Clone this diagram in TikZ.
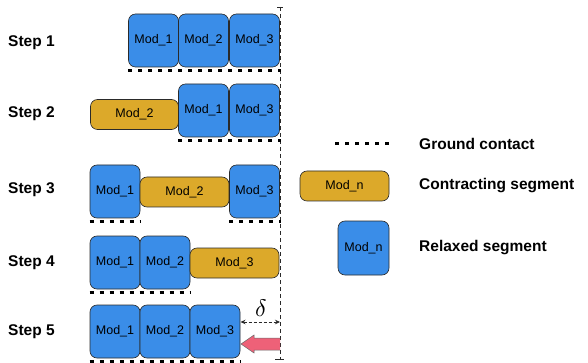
\documentclass[tikz,border=0pt]{standalone}
\usepackage{fontspec}
\usepackage{graphicx}
\setmainfont{Liberation Sans}
\usetikzlibrary{arrows.meta,calc}
\definecolor{relblue}{HTML}{3A8DE8}
\definecolor{conyel}{HTML}{DCA92A}
\definecolor{pinkarr}{HTML}{EE6178}
\definecolor{edgegray}{HTML}{2A2A2A}
\tikzset{
  relaxed/.style={draw=edgegray, line width=0.6pt, fill=relblue, rounded corners=7pt,
    minimum width=50pt, minimum height=53pt, inner sep=0pt, font=\fontsize{12.5}{14}\selectfont},
  contracting/.style={draw=edgegray, line width=0.6pt, fill=conyel, rounded corners=7pt,
    minimum width=88pt, minimum height=30pt, inner sep=0pt, font=\fontsize{12.5}{14}\selectfont},
  ground/.style={line width=3pt, dash pattern=on 4pt off 6pt, black},
  steplabel/.style={anchor=west, inner sep=0pt, font=\bfseries\fontsize{15.5}{18}\selectfont},
  legtext/.style={anchor=west, inner sep=0pt, font=\bfseries\fontsize{15.5}{18}\selectfont},
}
\begin{document}
\begin{tikzpicture}[x=1pt,y=-1pt]
\useasboundingbox (0,0) rectangle (588,363);

% step labels
\node[steplabel] (l1) at (8,43) {Step 1};
\node[steplabel] (l2) at (8,114) {Step 2};
\node[steplabel] (l3) at (8,190) {Step 3};
\node[steplabel] (l4) at (8,263) {Step 4};
\node[steplabel] (l5) at (8,332) {Step 5};

% reference line
\coordinate (rtop) at (280,7);
\coordinate (rbot) at (280,359);
\draw[edgegray, line width=0.6pt, dash pattern=on 4pt off 3pt] (rtop) -- (rbot);
\draw[edgegray, line width=0.7pt] ([xshift=-3pt]rtop) -- ([xshift=3pt]rtop);
\draw[edgegray, line width=0.7pt] ([xshift=-5pt]rbot) -- ([xshift=4pt]rbot);

% Step 1
\node[relaxed] (s1a) at (153.5,40.5) {Mod\_1};
\node[relaxed] (s1b) at (203.5,40.5) {Mod\_2};
\node[relaxed] (s1c) at (254.5,40.5) {Mod\_3};
\draw[ground] ([yshift=-3.5pt]s1a.south west) -- ([yshift=-3.5pt,xshift=1pt]s1c.south east);

% Step 2
\node[contracting] (s2b) at (134.5,114.5) {Mod\_2};
\node[relaxed] (s2a) at (203.5,110.5) {Mod\_1};
\node[relaxed] (s2c) at (254.5,110.5) {Mod\_3};
\draw[ground] ([yshift=-3.5pt]s2a.south west) -- ([yshift=-3.5pt,xshift=1pt]s2c.south east);

% Step 3
\node[relaxed] (s3a) at (115,191.5) {Mod\_1};
\node[contracting, minimum width=89pt] (s3b) at (184.5,192) {Mod\_2};
\node[relaxed] (s3c) at (254.5,191.5) {Mod\_3};
\draw[ground] ([yshift=-3.5pt]s3a.south west) -- ([yshift=-3.5pt]s3a.south east);
\draw[ground] ([yshift=-3.5pt]s3c.south west) -- ([yshift=-3.5pt,xshift=1pt]s3c.south east);

% Step 4
\node[relaxed] (s4a) at (115,262.5) {Mod\_1};
\node[relaxed] (s4b) at (165,262.5) {Mod\_2};
\node[contracting, minimum width=89pt] (s4c) at (234.5,263) {Mod\_3};
\draw[ground] ([yshift=-3.5pt]s4a.south west) -- ([yshift=-3.5pt]s4b.south east);

% Step 5
\node[relaxed] (s5a) at (115,331.5) {Mod\_1};
\node[relaxed] (s5b) at (165,331.5) {Mod\_2};
\node[relaxed] (s5c) at (215,331.5) {Mod\_3};
\draw[ground] ([yshift=-3pt]s5a.south west) -- ([yshift=-3pt]s5c.south east);

% delta
\coordinate (dl) at (240.5,322);
\coordinate (dr) at (280,322);
\draw[edgegray, line width=0.7pt, dash pattern=on 3pt off 2pt,
  {Stealth[length=5pt,width=4.5pt]}-{Stealth[length=5pt,width=4.5pt]}] (dl) -- (dr);
\node[inner sep=0pt] (delta) at (261,308) {\scalebox{2.4}{$\delta$}};

% push arrow
\coordinate (ptip) at (241,344);
\draw[fill=pinkarr, draw=edgegray!70, line width=0.5pt]
  (280,338) -- (254,338) -- (254,335) -- (ptip) -- (254,353) -- (254,350) -- (280,350);

% legend
\coordinate (g1) at (335,144);
\coordinate (g2) at (389,144);
\draw[ground] (g1) -- (g2);
\node[legtext] (lt1) at (419,144) {Ground contact};
\node[contracting, minimum width=89pt] (lc) at (344.5,186) {Mod\_n};
\node[legtext] (lt2) at (419,186) {Contracting segment};
\node[relaxed, minimum width=51pt, minimum height=54pt] (lr) at (363.5,248) {Mod\_n};
\node[legtext] (lt3) at (419,248) {Relaxed segment};
\end{tikzpicture}
\end{document}
